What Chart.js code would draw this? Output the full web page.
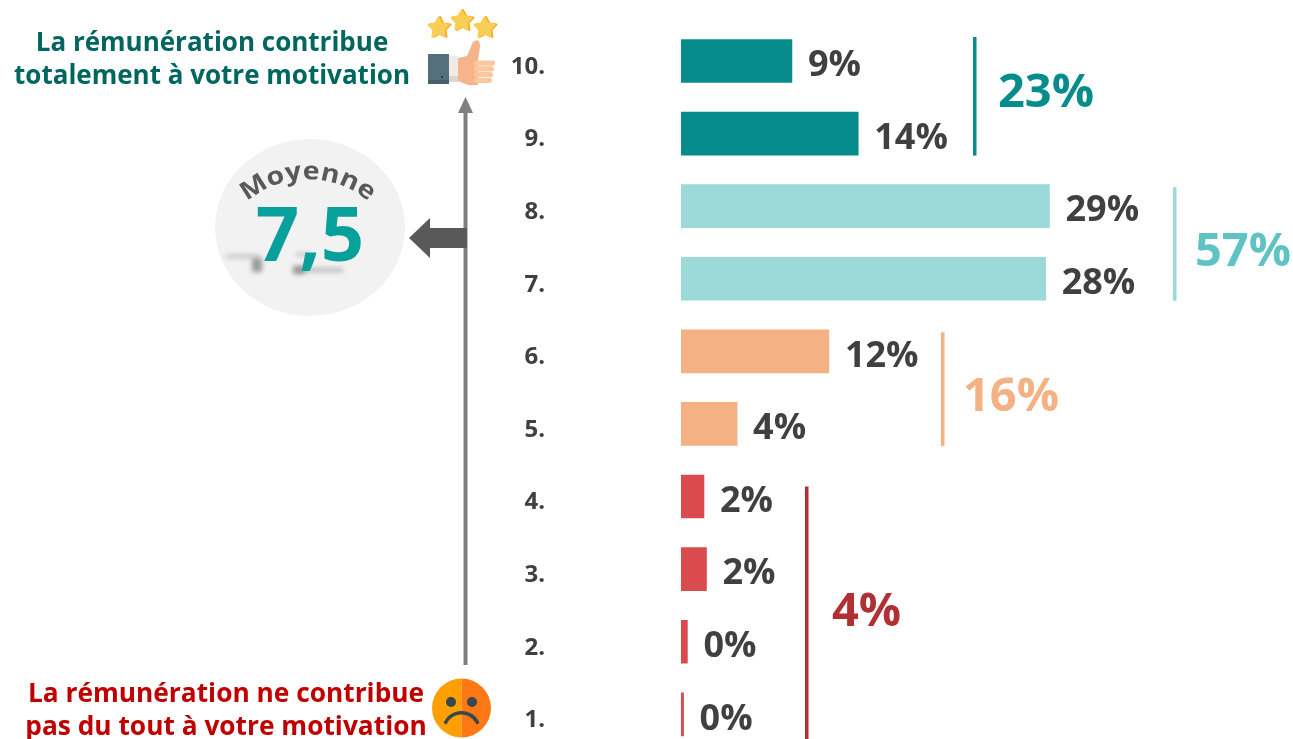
<!DOCTYPE html>
<html lang="fr">
<head>
<meta charset="utf-8">
<title>Motivation</title>
<script src="https://cdn.jsdelivr.net/npm/chart.js@4"></script>
<style>
  html, body { margin: 0; padding: 0; background: #fff; overflow: hidden; }
  #wrap { position: relative; width: 1293px; height: 739px; overflow: hidden; }
  #wrap canvas { display: block; }
</style>
</head>
<body>
<div id="wrap"><div style="width:1293px;height:765px"><canvas id="chart"></canvas></div></div>
<script>
const FONT = '"Open Sans", "Noto Sans", sans-serif';

// ---- data
const categories = ['10.', '9.', '8.', '7.', '6.', '5.', '4.', '3.', '2.', '1.'];
const shares = [8.7, 13.9, 28.9, 28.6, 11.6, 4.4, 1.8, 2.0, 0.5, 0.2];
const shareLabels = ['9%', '14%', '29%', '28%', '12%', '4%', '2%', '2%', '0%', '0%'];
const barColors = ['#068d8b', '#068d8b', '#9cd9d9', '#9cd9d9', '#f4b183', '#f4b183', '#d94b4f', '#d94b4f', '#d94b4f', '#d94b4f'];
const groupLabels = ['23%', '57%', '16%', '4%'];
const groupColors = ['#068d8b', '#5fc3c3', '#f4b183', '#b03033'];
const bracketColors = ['#068d8b', '#9cd9d9', '#f4b183', '#b03033'];
const groupFirst = ['10.', '8.', '6.', '4.'];
const groupLast = ['9.', '7.', '5.', '1.'];
const average = '7,5';

// bracket placement in px, tuned against the reference
const bracketX = [975, 1175, 943, 807];
const bracketRise = [24, 19, 19, 10];
const bracketDrop = [22, 22, 22, 25];
const groupLabelX = [998, 1195, 963, 832];
const groupLabelShift = [-3, 8.5, 8.5, 0];

const barLabelsPlugin = {
  id: 'barLabels',
  afterDatasetsDraw(chart) {
    const ctx = chart.ctx;
    ctx.save();
    ctx.font = 'bold 36px ' + FONT;
    ctx.fillStyle = '#404040';
    ctx.textBaseline = 'middle';
    ctx.textAlign = 'left';
    chart.getDatasetMeta(0).data.forEach((bar, i) => {
      ctx.fillText(shareLabels[i], bar.x + 16, bar.y + 5);
    });
    ctx.restore();
  }
};

const bracketsPlugin = {
  id: 'brackets',
  afterDatasetsDraw(chart) {
    const ctx = chart.ctx;
    const y = chart.scales.y;
    ctx.save();
    ctx.textBaseline = 'middle';
    ctx.textAlign = 'left';
    groupLabels.forEach((label, i) => {
      const top = y.getPixelForValue(categories.indexOf(groupFirst[i])) - bracketRise[i];
      const bottom = y.getPixelForValue(categories.indexOf(groupLast[i])) + bracketDrop[i];
      ctx.fillStyle = bracketColors[i];
      ctx.fillRect(bracketX[i] - 2, top, 3.5, bottom - top);
      ctx.fillStyle = groupColors[i];
      ctx.font = 'bold 47px ' + FONT;
      ctx.fillText(label, groupLabelX[i], (top + bottom) / 2 + groupLabelShift[i]);
    });
    ctx.restore();
  }
};

function starPath(ctx, cx, cy, r) {
  ctx.beginPath();
  for (let i = 0; i < 10; i++) {
    const a = -Math.PI / 2 + i * Math.PI / 5;
    const rr = i % 2 ? r * 0.52 : r;
    ctx.lineTo(cx + rr * Math.cos(a), cy + rr * Math.sin(a));
  }
  ctx.closePath();
}

function star(ctx, cx, cy) {
  ctx.lineJoin = 'round';
  ctx.lineWidth = 2;
  ctx.fillStyle = ctx.strokeStyle = '#f9a825';
  starPath(ctx, cx, cy, 11);
  ctx.fill();
  ctx.stroke();
  ctx.fillStyle = ctx.strokeStyle = '#f9ce55';
  starPath(ctx, cx - 1.5, cy, 10.5);
  ctx.fill();
  ctx.stroke();
}

function drawThumb(ctx) {
  star(ctx, 440, 28);
  star(ctx, 463, 21);
  star(ctx, 486, 28);
  // cuff
  ctx.fillStyle = '#556f7c';
  ctx.fillRect(428, 54, 21, 30);
  ctx.fillStyle = '#48606c';
  ctx.fillRect(428, 80, 21, 4);
  ctx.fillStyle = '#2f3d44';
  ctx.fillRect(441, 76, 2, 2);
  // sleeve
  ctx.fillStyle = '#f1ebe8';
  ctx.fillRect(449, 56, 9, 20);
  ctx.fillStyle = '#ddd5d1';
  ctx.fillRect(449, 76, 9, 6);
  // hand
  ctx.fillStyle = '#f6b48a';
  ctx.beginPath();
  ctx.moveTo(458, 58);
  ctx.lineTo(467, 56);
  ctx.lineTo(473, 42);
  ctx.quadraticCurveTo(480, 37, 480, 47);
  ctx.lineTo(478, 60);
  ctx.lineTo(478, 85);
  ctx.lineTo(468, 85);
  ctx.lineTo(458, 81);
  ctx.closePath();
  ctx.fill();
  // fingers
  ctx.fillStyle = '#fbc7a0';
  for (let i = 0; i < 4; i++) {
    ctx.beginPath();
    ctx.roundRect(474, 60.5 + i * 5.8, i === 3 ? 18 : 21 - i, 5.2, 2.5);
    ctx.fill();
  }
}

function drawSadFace(ctx) {
  const cx = 461.5, cy = 708, r = 29.5;
  ctx.fillStyle = '#ff9f00';
  ctx.beginPath();
  ctx.arc(cx, cy, r, Math.PI / 2, Math.PI * 1.5);
  ctx.fill();
  ctx.fillStyle = '#ff7816';
  ctx.beginPath();
  ctx.arc(cx, cy, r, -Math.PI / 2, Math.PI / 2);
  ctx.fill();
  ctx.fillStyle = '#36474d';
  ctx.beginPath();
  ctx.arc(451, 702, 5, 0, Math.PI * 2);
  ctx.fill();
  ctx.beginPath();
  ctx.arc(472, 702, 5, 0, Math.PI * 2);
  ctx.fill();
  ctx.strokeStyle = '#36474d';
  ctx.lineWidth = 3.5;
  ctx.lineCap = 'round';
  ctx.beginPath();
  ctx.arc(cx, 730.5, 17.8, Math.PI * 1.15, Math.PI * 1.85);
  ctx.stroke();
}

// text on an arc, letters placed by their own width and stretched sideways
function drawCurved(ctx, text, cx, cy, r, gap, stretch) {
  const widths = [...text].map(c => ctx.measureText(c).width * stretch + gap);
  const total = widths.reduce((a, b) => a + b, 0);
  let run = -total / 2;
  [...text].forEach((c, i) => {
    const a = (run + widths[i] / 2) / r;
    ctx.save();
    ctx.translate(cx + r * Math.sin(a), cy - r * Math.cos(a));
    ctx.rotate(a);
    ctx.scale(stretch, 1);
    ctx.fillText(c, 0, 0);
    ctx.restore();
    run += widths[i];
  });
}

const notesPlugin = {
  id: 'notes',
  afterDraw(chart) {
    const ctx = chart.ctx;
    ctx.save();
    ctx.textBaseline = 'middle';
    ctx.textAlign = 'center';

    ctx.font = 'bold 26px ' + FONT;
    ctx.fillStyle = '#00665f';
    ctx.fillText('La rémunération contribue', 212, 44);
    ctx.fillText('totalement à votre motivation', 212, 77);
    ctx.fillStyle = '#c00000';
    ctx.font = 'bold 26.3px ' + FONT;
    ctx.fillText('La rémunération ne contribue', 226, 695);
    ctx.fillText('pas du tout à votre motivation', 226, 728);

    drawThumb(ctx);
    drawSadFace(ctx);

    // vertical axis arrow
    ctx.fillStyle = '#7f7f7f';
    ctx.fillRect(463.5, 112, 4, 553);
    ctx.beginPath();
    ctx.moveTo(465.5, 97);
    ctx.lineTo(473, 113);
    ctx.lineTo(458, 113);
    ctx.closePath();
    ctx.fill();

    // arrow to the average
    ctx.fillStyle = '#595959';
    ctx.beginPath();
    ctx.moveTo(409, 238);
    ctx.lineTo(430, 218);
    ctx.lineTo(430, 228);
    ctx.lineTo(467, 228);
    ctx.lineTo(467, 248);
    ctx.lineTo(430, 248);
    ctx.lineTo(430, 258);
    ctx.closePath();
    ctx.fill();

    // average bubble
    ctx.fillStyle = '#f2f2f2';
    ctx.beginPath();
    ctx.ellipse(310, 227.5, 95, 88.5, 0, 0, Math.PI * 2);
    ctx.fill();

    ctx.save();
    ctx.filter = 'blur(2.5px)';
    ctx.fillStyle = '#b8b8b8';
    ctx.fillRect(226, 255, 33, 3);
    ctx.fillRect(296, 253, 14, 3);
    ctx.fillRect(296, 268, 47, 4);
    ctx.fillStyle = '#999';
    ctx.fillRect(252, 258, 10, 14);
    ctx.fillRect(293, 266, 12, 8);
    ctx.restore();

    ctx.fillStyle = '#595959';
    ctx.font = 'bold 25px ' + FONT;
    drawCurved(ctx, 'Moyenne', 308, 272, 100, 1.5, 1.14);

    ctx.fillStyle = '#08a09a';
    ctx.font = 'bold 76px ' + FONT;
    ctx.fillText(average, 310, 239.5);
    ctx.restore();
  }
};

new Chart(document.getElementById('chart'), {
  type: 'bar',
  data: {
    labels: categories,
    datasets: [{
      data: shares,
      backgroundColor: barColors,
      barThickness: 43
    }]
  },
  plugins: [barLabelsPlugin, bracketsPlugin, notesPlugin],
  options: {
    indexAxis: 'y',
    responsive: true,
    maintainAspectRatio: false,
    animation: false,
    layout: { padding: { top: 24.7, bottom: 14.2, left: 0, right: 0 } },
    plugins: { legend: false, title: false, tooltip: { enabled: false } },
    scales: {
      x: {
        display: false,
        min: 0,
        max: 48
      },
      y: {
        afterFit(scale) { scale.width = 681; },
        grid: { drawOnChartArea: false, tickLength: 136, tickColor: 'transparent' },
        border: { display: false },
        ticks: {
          padding: 0,
          labelOffset: 6,
          color: '#404040',
          font: { family: FONT, size: 24, weight: 'bold' }
        }
      }
    }
  }
});
</script>
</body>
</html>
